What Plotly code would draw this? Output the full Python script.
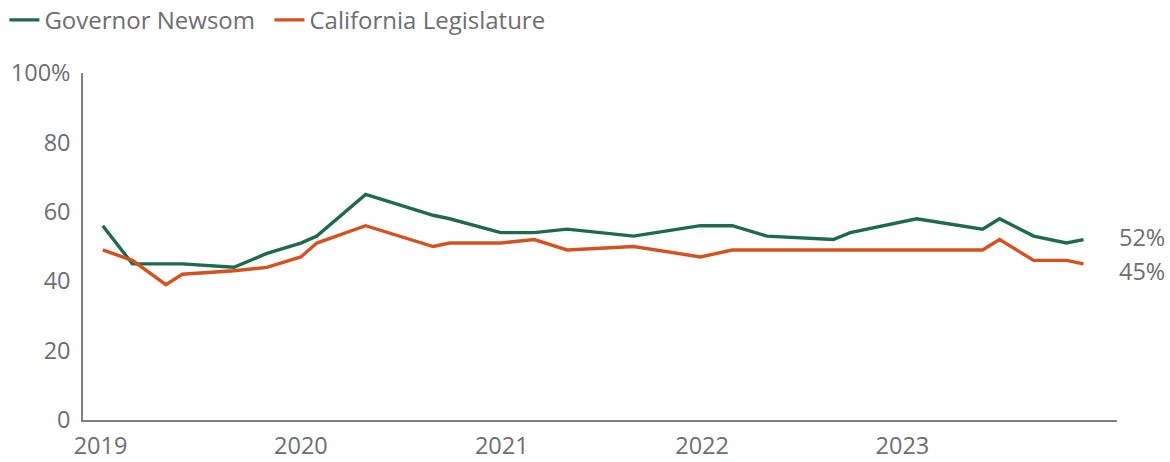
import plotly.graph_objects as go

dates = ["2019-01-05", "2019-02-28", "2019-04-30", "2019-05-30", "2019-09-01", "2019-10-31",
         "2020-01-01", "2020-01-30", "2020-04-28", "2020-08-29", "2020-09-28", "2020-12-30",
         "2021-03-01", "2021-04-30", "2021-08-29", "2021-12-29", "2022-02-25", "2022-04-29",
         "2022-08-28", "2022-09-28", "2023-01-27", "2023-05-27", "2023-06-27", "2023-08-28",
         "2023-10-27", "2023-11-27"]
governor = [56, 45, 45, 45, 44, 48, 51, 53, 65, 59, 58, 54, 54, 55, 53, 56, 56, 53, 52, 54,
            58, 55, 58, 53, 51, 52]
legislature = [49, 46, 39, 42, 43, 44, 47, 51, 56, 50, 51, 51, 52, 49, 50, 47, 49, 49, 49, 49,
               49, 49, 52, 46, 46, 45]
year_ticks = ["2019-01-01", "2020-01-01", "2021-01-01", "2022-01-01", "2023-01-01"]
year_labels = ["2019", "2020", "2021", "2022", "2023"]
y_ticks = [0, 20, 40, 60, 80, 100]
y_labels = ["0", "20", "40", "60", "80", "100%"]

GREEN = "#1d6a4f"
ORANGE = "#d4521f"
GRAY = "#6d6e71"
FONT = "Open Sans"
FS = 23.5

fig = go.Figure()
fig.add_trace(go.Scatter(x=dates, y=governor, mode="lines", name="Governor Newsom",
                         line=dict(color=GREEN, width=3.4), legend="legend"))
fig.add_trace(go.Scatter(x=dates, y=legislature, mode="lines", name="California Legislature",
                         line=dict(color=ORANGE, width=3.4), legend="legend2"))

fig.add_annotation(x=1.0, xref="paper", y=52.6, yref="y", text=f"{governor[-1]}%",
                   showarrow=False, xanchor="left", xshift=0,
                   font=dict(family=FONT, size=FS, color=GRAY))
fig.add_annotation(x=1.0, xref="paper", y=42.9, yref="y", text=f"{legislature[-1]}%",
                   showarrow=False, xanchor="left", xshift=0,
                   font=dict(family=FONT, size=FS, color=GRAY))

legend_common = dict(orientation="h", xanchor="left", y=1.152, yanchor="middle",
                     font=dict(family=FONT, size=FS + 0.5, color=GRAY), itemwidth=30,
                     bgcolor="rgba(0,0,0,0)")

fig.update_layout(
    width=1170, height=462,
    margin=dict(l=83, r=53, t=73, b=42, autoexpand=False),
    plot_bgcolor="white", paper_bgcolor="white",
    font=dict(family=FONT, size=FS, color=GRAY),
    showlegend=True,
    legend=dict(x=-0.076, **legend_common),
    legend2=dict(x=0.1803, **legend_common),
    xaxis=dict(type="date", range=["2018-11-30", "2024-01-27"], tickvals=year_ticks,
               ticktext=year_labels, showgrid=False, zeroline=False, showline=True,
               linecolor="#7f7f7f", linewidth=1.5, ticks="", ticklabelstandoff=4,
               tickfont=dict(size=FS, color=GRAY)),
    yaxis=dict(range=[0, 100], tickvals=y_ticks, ticktext=y_labels, showgrid=False,
               zeroline=False, showline=True, linecolor="#7f7f7f", linewidth=1.5, ticks="",
               ticklabelstandoff=6, tickfont=dict(size=FS, color=GRAY)),
)

fig.write_html("out.html", config={"displayModeBar": False},
               post_script="document.body.style.margin='0';")
